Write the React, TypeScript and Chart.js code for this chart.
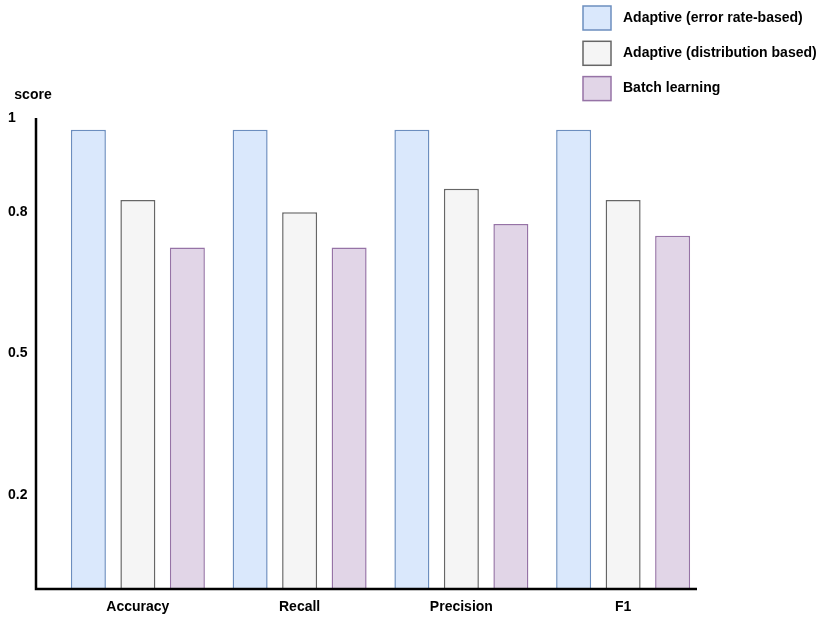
import React, { useEffect, useRef } from "react";
import { Chart, registerables } from "chart.js";

Chart.register(...registerables);

const categories = ["Accuracy", "Recall", "Precision", "F1"];
const seriesNames = [
  "Adaptive (error rate-based)",
  "Adaptive (distribution based)",
  "Batch learning",
];
const errorRateBased = [0.975, 0.975, 0.975, 0.975];
const distributionBased = [0.826, 0.8, 0.85, 0.826];
const batchLearning = [0.725, 0.725, 0.775, 0.75];
const yTickValues = [0.2, 0.5, 0.8, 1];
const yAxisTitle = "score";

const fills = ["#dae8fc", "#f5f5f5", "#e1d5e7"];
const strokes = ["#6c8ebf", "#666666", "#9673a6"];
const FONT = "'Liberation Sans', Arial, sans-serif";

const decorPlugin = {
  id: "decor",
  afterDraw(chart: any) {
    const { ctx, chartArea } = chart;
    const axisX = chartArea.left - 21;
    ctx.save();
    // axis lines
    ctx.strokeStyle = "#000";
    ctx.lineWidth = 2.5;
    ctx.beginPath();
    ctx.moveTo(axisX, chartArea.top);
    ctx.lineTo(axisX, chartArea.bottom);
    ctx.lineTo(chartArea.right - 7, chartArea.bottom);
    ctx.stroke();
    // y axis title
    ctx.fillStyle = "#000";
    ctx.font = `bold 14px ${FONT}`;
    ctx.textAlign = "center";
    ctx.textBaseline = "middle";
    ctx.fillText(yAxisTitle, axisX - 3, chartArea.top - 23);
    // legend
    const boxX = 583;
    chart.data.datasets.forEach((ds: any, i: number) => {
      const cy = 18 + i * 35.3;
      ctx.fillStyle = ds.backgroundColor;
      ctx.strokeStyle = ds.borderColor;
      ctx.lineWidth = 1.5;
      ctx.fillRect(boxX, cy - 12, 28, 24);
      ctx.strokeRect(boxX, cy - 12, 28, 24);
      ctx.fillStyle = "#000";
      ctx.textAlign = "left";
      ctx.textBaseline = "middle";
      ctx.font = `bold 14px ${FONT}`;
      ctx.fillText(ds.label, 623, cy);
    });
    ctx.restore();
  },
};

export default function App() {
  const ref = useRef<HTMLCanvasElement>(null);
  useEffect(() => {
    document.body.style.margin = "0";
    const values = [errorRateBased, distributionBased, batchLearning];
    const chart = new Chart(ref.current!, {
      type: "bar",
      data: {
        labels: categories,
        datasets: values.map((v, i) => ({
          label: seriesNames[i],
          data: v,
          backgroundColor: fills[i],
          borderColor: strokes[i],
          borderWidth: 1.5,
          barPercentage: 0.707,
          categoryPercentage: 0.918,
        })),
      },
      options: {
        animation: false,
        responsive: false,
        maintainAspectRatio: false,
        layout: { padding: { top: 118, left: 8, right: 127, bottom: 0 } },
        plugins: {
          legend: { display: false },
          tooltip: { enabled: false },
          title: { display: false },
        },
        scales: {
          x: {
            grid: { display: false, drawTicks: false },
            border: { display: false },
            ticks: {
              color: "#000",
              font: { family: FONT, size: 14, weight: "bold" },
              padding: 10,
              maxRotation: 0,
            },
            afterFit: (s: any) => {
              s.height = 39;
            },
          },
          y: {
            min: 0,
            max: 1,
            grid: { display: false, drawTicks: false },
            border: { display: false },
            afterBuildTicks: (s: any) => {
              s.ticks = yTickValues.map((v) => ({ value: v }));
            },
            ticks: {
              color: "#000",
              crossAlign: "far",
              font: { family: FONT, size: 14, weight: "bold" },
              callback: (v: any) => String(v),
            },
            afterFit: (s: any) => {
              s.width = 49;
            },
          },
        },
      },
      plugins: [decorPlugin],
    });
    return () => chart.destroy();
  }, []);
  return (
    <div style={{ width: 831, height: 628 }}>
      <canvas ref={ref} width={831} height={628} style={{ display: "block" }} />
    </div>
  );
}
